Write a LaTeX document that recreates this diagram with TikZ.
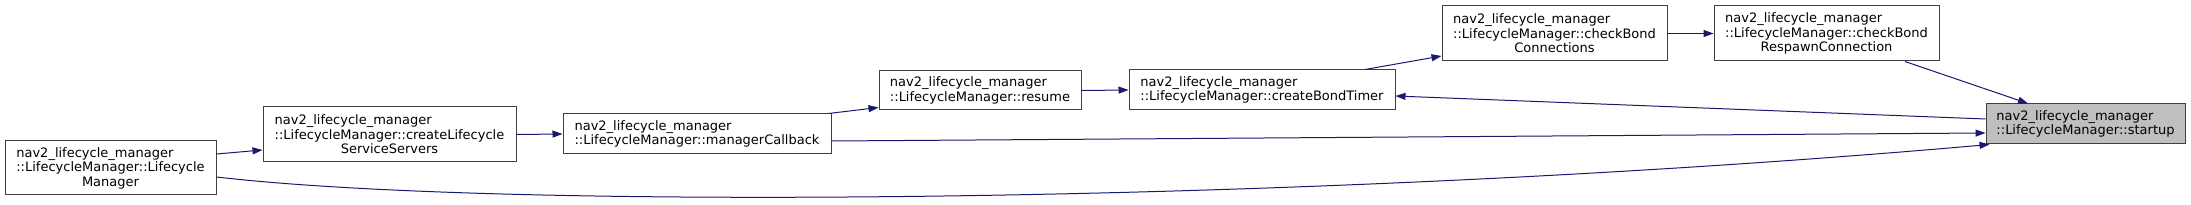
\documentclass[tikz,border=0pt]{standalone}
\usepackage{fontspec}
\setmainfont{DejaVu Sans}
\usetikzlibrary{arrows.meta}
\definecolor{Navy}{HTML}{191970}
\definecolor{Frame}{HTML}{404040}
\definecolor{SelF}{HTML}{BFBFBF}

\begin{document}
\begin{tikzpicture}[x=1pt,y=-1pt,
    fn/.style={draw=Frame,fill=white,line width=1pt,inner sep=0pt,align=left,
      font=\fontsize{13}{14.5}\selectfont},
    fn3/.style={fn,align=center},
    cur/.style={fn,fill=SelF},
    call/.style={-{Triangle[length=10pt,width=7pt]},draw=Navy,line width=1pt}]
  \useasboundingbox (0,0) rectangle (2191,205);
  % callers, left to right
  \node[fn3,minimum width=211pt,minimum height=54pt] (LM) at (110.5,168)
    {\begin{tabular}[b]{@{}l@{}}nav2\_lifecycle\_manager\\::LifecycleManager::Lifecycle\end{tabular}\\Manager};
  \node[fn3,minimum width=253pt,minimum height=55pt] (CS) at (389.5,134.5)
    {\begin{tabular}[b]{@{}l@{}}nav2\_lifecycle\_manager\\::LifecycleManager::createLifecycle\end{tabular}\\ServiceServers};
  \node[fn,minimum width=268pt,minimum height=40pt] (MC) at (697,134)
    {nav2\_lifecycle\_manager\\::LifecycleManager::managerCallback};
  \node[fn,minimum width=202pt,minimum height=39pt] (RS) at (980,90.5)
    {nav2\_lifecycle\_manager\\::LifecycleManager::resume};
  \node[fn,minimum width=266pt,minimum height=40pt] (BT) at (1262,90)
    {nav2\_lifecycle\_manager\\::LifecycleManager::createBondTimer};
  \node[fn3,minimum width=225pt,minimum height=55pt] (BC) at (1554.5,33.5)
    {\begin{tabular}[b]{@{}l@{}}nav2\_lifecycle\_manager\\::LifecycleManager::checkBond\end{tabular}\\Connections};
  \node[fn3,minimum width=225pt,minimum height=55pt] (BR) at (1826.5,33.5)
    {\begin{tabular}[b]{@{}l@{}}nav2\_lifecycle\_manager\\::LifecycleManager::checkBond\end{tabular}\\RespawnConnection};
  \node[cur,minimum width=199pt,minimum height=40pt] (ST) at (2085.5,124)
    {nav2\_lifecycle\_manager\\::LifecycleManager::startup};
  % edges
  \draw[call] ([yshift=14pt]LM.east) -- ([yshift=-15.5pt]CS.west);
  \draw[call] (CS.east) -- (MC.west);
  \draw[call] ([xshift=-3pt]MC.north east) -- ([yshift=-17pt]RS.west);
  \draw[call] (RS.east) -- (BT.west);
  \draw[call] ([xshift=103pt]BT.north) -- ([yshift=-22.5pt]BC.west);
  \draw[call] (BC.east) -- (BR.west);
  \draw[call] ([xshift=78.5pt]BR.south) -- ([xshift=-57.5pt]ST.north);
  \draw[call] ([yshift=5pt]ST.west) -- ([yshift=-6pt]BT.east);
  \draw[call] ([yshift=-7pt]MC.east) -- ([yshift=-9pt]ST.west);
  \draw[call] ([yshift=-9pt]LM.east) .. controls (500,210) and (1300,205) .. ([xshift=4pt]ST.south west);
\end{tikzpicture}
\end{document}
